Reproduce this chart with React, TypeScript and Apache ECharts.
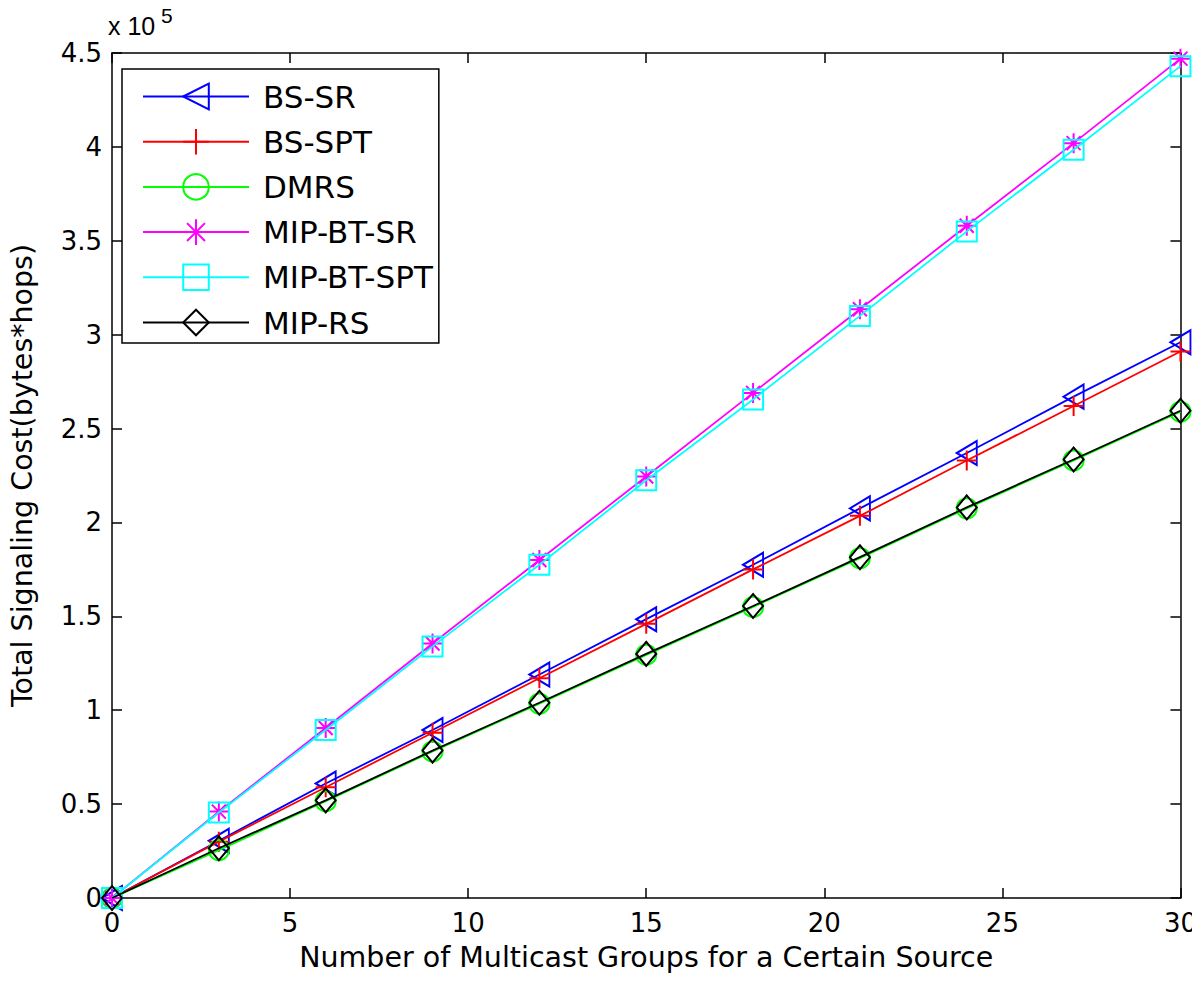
import React, { useEffect, useRef } from "react";
import * as echarts from "echarts";

const groups = [0, 3, 6, 9, 12, 15, 18, 21, 24, 27, 30];
const bsSR = [0, 30500, 61000, 89500, 119000, 148500, 177500, 207500, 237000, 267000, 296000];
const bsSPT = [0, 30000, 59000, 88000, 117000, 146000, 175000, 203500, 233000, 262000, 291000];
const dmrs = [0, 25500, 51500, 78000, 103500, 129500, 155000, 181000, 207500, 233000, 259000];
const mipBtSR = [0, 46000, 90500, 135500, 180000, 224500, 269000, 313500, 358000, 402000, 447000];
const mipBtSPT = [0, 45500, 89500, 134000, 177500, 222500, 265500, 310000, 355000, 398500, 443000];
const mipRS = [0, 26500, 52000, 78500, 104000, 130000, 155500, 181500, 208000, 233500, 259500];
const seriesNames = ["BS-SR", "BS-SPT", "DMRS", "MIP-BT-SR", "MIP-BT-SPT", "MIP-RS"];
const xTitle = "Number of Multicast Groups for a Certain Source";
const yTitle = "Total Signaling Cost(bytes*hops)";

const FONT = "DejaVu Sans";

export default function App() {
  const ref = useRef<HTMLDivElement>(null);
  useEffect(() => {
    if (!ref.current) return;
    const chart = echarts.init(ref.current, undefined, { renderer: "svg" });
    const values = [bsSR, bsSPT, dmrs, mipBtSR, mipBtSPT, mipRS];
    const colors = ["#0000ff", "#ff0000", "#00ff00", "#ff00ff", "#00ffff", "#000000"];
    const symbols = [
      "path://M0,6 L10,0 L10,12 Z",
      "path://M5,0 L5,10 M0,5 L10,5",
      "circle",
      "path://M5,0 L5,10 M0,5 L10,5 M1.5,1.5 L8.5,8.5 M1.5,8.5 L8.5,1.5",
      "rect",
      "path://M5,0 L10,6 L5,12 L0,6 Z",
    ];
    const sizes: any[] = [[20, 24], 20, 20, 20, 20, [20, 24]];
    const series = values.map((vals, i) => ({
      name: seriesNames[i],
      type: "line",
      data: groups.map((g, j) => [g, vals[j]]),
      symbol: symbols[i],
      symbolSize: sizes[i],
      showAllSymbol: true,
      lineStyle: { color: colors[i], width: 1.8 },
      itemStyle: { color: "rgba(0,0,0,0)", borderColor: colors[i], borderWidth: 2 },
      emphasis: { disabled: true },
      z: 2 + i,
    }));
    const tickLabel = { fontFamily: FONT, fontSize: 26, color: "#000" };
    chart.setOption({
      animation: false,
      backgroundColor: "#fff",
      grid: { left: 107, right: 14, top: 53, bottom: 88, containLabel: false },
      legend: {
        orient: "vertical",
        left: 122,
        top: 69,
        padding: [12, 6, 5, 20],
        itemWidth: 106,
        itemHeight: 32,
        itemGap: 14.2,
        borderColor: "#000",
        borderWidth: 1.5,
        backgroundColor: "#fff",
        data: seriesNames,
        textStyle: { fontFamily: FONT, fontSize: 31, color: "#000", padding: [0, 0, 0, 9] },
        selectedMode: false,
      },
      xAxis: [
        {
          type: "value",
          min: 0,
          max: 30,
          interval: 5,
          name: xTitle,
          nameLocation: "middle",
          nameGap: 45,
          nameTextStyle: { fontFamily: FONT, fontSize: 28.5, color: "#000" },
          axisLine: { show: true, onZero: false, lineStyle: { color: "#000", width: 1.5 } },
          axisTick: { show: true, inside: true, length: 10, lineStyle: { color: "#000", width: 1.5 } },
          axisLabel: { ...tickLabel, margin: 12 },
          splitLine: { show: false },
        },
        {
          type: "value",
          position: "top",
          min: 0,
          max: 30,
          interval: 5,
          axisLine: { show: true, onZero: false, lineStyle: { color: "#000", width: 1.5 } },
          axisTick: { show: true, inside: true, length: 10, lineStyle: { color: "#000", width: 1.5 } },
          axisLabel: { show: false },
          splitLine: { show: false },
        },
      ],
      yAxis: [
        {
          type: "value",
          min: 0,
          max: 450000,
          interval: 50000,
          name: yTitle,
          nameLocation: "middle",
          nameGap: 75,
          nameTextStyle: { fontFamily: FONT, fontSize: 28.5, color: "#000" },
          axisLine: { show: true, onZero: false, lineStyle: { color: "#000", width: 1.5 } },
          axisTick: { show: true, inside: true, length: 10, lineStyle: { color: "#000", width: 1.5 } },
          axisLabel: { ...tickLabel, margin: 10, formatter: (v: number) => String(v / 100000) },
          splitLine: { show: false },
        },
        {
          type: "value",
          position: "right",
          min: 0,
          max: 450000,
          interval: 50000,
          axisLine: { show: true, onZero: false, lineStyle: { color: "#000", width: 1.5 } },
          axisTick: { show: true, inside: true, length: 10, lineStyle: { color: "#000", width: 1.5 } },
          axisLabel: { show: false },
          splitLine: { show: false },
        },
      ],
      graphic: [
        { type: "text", left: 108, top: 13, style: { text: "x 10", fontFamily: "Liberation Sans", fontSize: 25, fill: "#000" } },
        { type: "text", left: 161, top: 5, style: { text: "5", fontFamily: "Liberation Sans", fontSize: 21, fill: "#000" } },
      ],
      series,
    });
    return () => chart.dispose();
  }, []);
  return <div ref={ref} style={{ width: 1200, height: 986, margin: -8 }} />;
}
